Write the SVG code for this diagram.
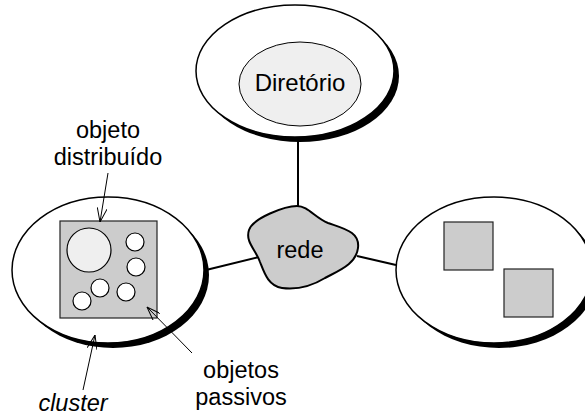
<svg xmlns="http://www.w3.org/2000/svg" width="585" height="416" viewBox="0 0 585 416">
  <defs>
    <style>
      .lbl { font-family: "Liberation Sans", Arial, sans-serif; font-size: 23.5px; fill: #000; text-anchor: middle; }
      .big { font-size: 24px; }
      .node { fill: #fff; stroke: #000; stroke-width: 1.5; }
      .shadow { fill: #000; }
      .box { fill: #ccc; stroke: #222; stroke-width: 1.2; }
      .obj { fill: #fff; stroke: #000; stroke-width: 1.2; }
      .link { stroke: #000; stroke-width: 2; fill: none; }
      .ptr { stroke: #000; stroke-width: 1; fill: none; }
    </style>
    <marker id="vhead" viewBox="0 0 14 10" refX="14" refY="5" markerWidth="14" markerHeight="10" markerUnits="userSpaceOnUse" orient="auto">
      <path d="M0,0 L14,5 L0,10" fill="none" stroke="#000" stroke-width="1"/>
    </marker>
  </defs>

  <!-- network links -->
  <g id="connectors">
    <line class="link" x1="298" y1="140" x2="298" y2="208"/>
    <line class="link" x1="206" y1="270" x2="259" y2="257"/>
    <line class="link" x1="357" y1="256" x2="396" y2="265"/>
  </g>

  <!-- directory host -->
  <g id="directory">
    <ellipse class="shadow" cx="300" cy="76" rx="99" ry="66"/>
    <ellipse class="node" cx="295" cy="71" rx="99" ry="66"/>
    <ellipse cx="300" cy="84" rx="61" ry="42" fill="#efefef" stroke="#000" stroke-width="1"/>
    <text class="lbl big" x="300" y="91">Diretório</text>
  </g>

  <!-- network cloud -->
  <g id="rede">
    <path d="M297,206 C308,206 315,218 328,223 C345,229 360,232 358,248 C356,264 340,270 325,278 C312,286 298,290 282,288 C268,286 264,272 260,262 C256,250 245,242 249,230 C253,218 285,206 297,206 Z" fill="#ccc" stroke="#000" stroke-width="2"/>
    <text class="lbl" x="300" y="258">rede</text>
  </g>

  <!-- cluster with a distributed object -->
  <g id="cluster-left">
    <ellipse class="shadow" cx="113" cy="275" rx="96" ry="73"/>
    <ellipse class="node" cx="108" cy="270" rx="96" ry="73"/>
    <rect class="box" x="60" y="221" width="97" height="97"/>
    <circle cx="89" cy="250" r="22" fill="#efefef" stroke="#000" stroke-width="1.2"/>
    <circle class="obj" cx="135" cy="242" r="9"/>
    <circle class="obj" cx="136" cy="267" r="9"/>
    <circle class="obj" cx="100" cy="288" r="9"/>
    <circle class="obj" cx="126" cy="292" r="9"/>
    <circle class="obj" cx="82" cy="301" r="9"/>
  </g>

  <!-- second cluster -->
  <g id="cluster-right">
    <ellipse class="shadow" cx="499" cy="275" rx="98" ry="73"/>
    <ellipse class="node" cx="494" cy="270" rx="98" ry="73"/>
    <rect class="box" x="444" y="222" width="49" height="48"/>
    <rect class="box" x="504" y="269" width="49" height="48"/>
  </g>

  <!-- annotations -->
  <g id="label-distribuido">
    <text class="lbl" x="108" y="138">objeto</text>
    <text class="lbl" x="108" y="165">distribuído</text>
    <line class="ptr" x1="108" y1="173" x2="100" y2="222" marker-end="url(#vhead)"/>
  </g>
  <g id="label-passivos">
    <text class="lbl" x="241" y="378">objetos</text>
    <text class="lbl" x="241" y="405">passivos</text>
    <line class="ptr" x1="192" y1="353" x2="147" y2="307" marker-end="url(#vhead)"/>
  </g>
  <g id="label-cluster">
    <text class="lbl" x="73" y="411" font-style="italic">cluster</text>
    <line class="ptr" x1="83" y1="390" x2="95" y2="335" marker-end="url(#vhead)"/>
  </g>
</svg>
